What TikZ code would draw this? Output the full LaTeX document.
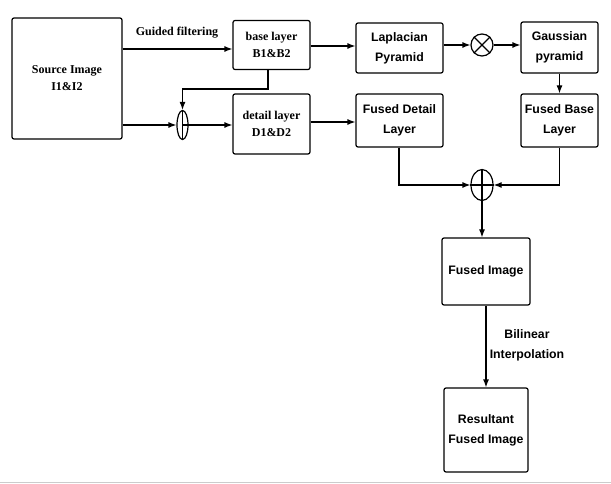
\documentclass[tikz,border=0pt]{standalone}
\usepackage{fontspec}
\setmainfont{Liberation Serif}
\setsansfont{Liberation Sans}
\usetikzlibrary{arrows.meta,shapes.geometric}
\begin{document}
\begin{tikzpicture}[x=1pt,y=-1pt,
  line width=1.2pt,
  box/.style={draw, rounded corners=2pt, align=center, inner sep=1pt},
  serifbox/.style={box, font=\fontsize{12}{17}\selectfont\bfseries},
  sansbox/.style={box, font=\sffamily\fontsize{12.3}{20}\selectfont\bfseries},
  arr/.style={-{Latex[length=8pt,width=6pt]}},
  lbl/.style={font=\sffamily\fontsize{12.3}{20}\selectfont\bfseries, align=center}]
\useasboundingbox (0,0) rectangle (611,484);
\draw[gray!40, line width=1pt] (0,482) -- (611,482);

\node[serifbox, minimum width=110pt, minimum height=121pt] (src) at (67,78.5) {Source Image\\I1\&I2};
\node[serifbox, minimum width=77pt, minimum height=49pt] (base) at (271.5,45) {base layer\\B1\&B2};
\node[serifbox, minimum width=77pt, minimum height=60pt] (det) at (271.5,124) {detail layer\\D1\&D2};
\node[sansbox, minimum width=87pt, minimum height=50pt] (lap) at (399.5,48) {Laplacian\\Pyramid};
\node[sansbox, minimum width=77pt, minimum height=51pt] (gau) at (559.5,47.5) {Gaussian\\pyramid};
\node[sansbox, minimum width=87pt, minimum height=53pt] (fdl) at (399.5,120.5) {Fused Detail\\Layer};
\node[sansbox, minimum width=77pt, minimum height=53pt] (fbl) at (559.5,120.5) {Fused Base\\Layer};
\node[sansbox, minimum width=88pt, minimum height=67pt] (fim) at (486,271.5) {Fused Image};
\node[sansbox, minimum width=84pt, minimum height=84pt] (res) at (486,430) {Resultant\\Fused Image};

% small ellipse (sum)
\node[draw, ellipse, minimum width=11pt, minimum height=29pt, inner sep=0pt] (e1) at (182.5,125) {};
\draw (e1.north) -- (e1.south);
% otimes
\node[draw, circle, minimum size=22pt, inner sep=0pt] (mul) at (482,45) {};
\draw (mul.north east) -- (mul.south west) (mul.north west) -- (mul.south east);
% oplus
\node[draw, ellipse, minimum width=22pt, minimum height=31pt, inner sep=0pt] (add) at (482,185) {};
\draw (add.north) -- (add.south) (add.west) -- (add.east);

\node[font=\fontsize{12}{14}\selectfont\bfseries] (gf) at (177,33) {Guided filtering};
\node[lbl] (bi) at (527,345) {Bilinear\\Interpolation};

\coordinate (s1) at (src.east |- 0,49);
\coordinate (s2) at (src.east |- 0,125);
\coordinate (b1) at (268,0);
\draw[arr] (s1) -- (base.west |- s1);
\draw[arr] (s2) -- (e1.west);
\draw[arr] (e1.center) -- (det.west |- e1);
\draw[arr] (b1 |- base.south) -- (b1 |- 0,89) -| (e1.north);
\draw[arr] (base.east |- 0,46) -- (lap.west |- 0,46);
\draw[arr] (lap.east |- mul) -- (mul.west);
\draw[arr] (mul.east) -- (gau.west |- mul);
\draw[arr] (gau.south) -- (fbl.north);
\draw[arr] (det.east |- 0,122) -- (fdl.west |- 0,122);
\draw[arr] (fdl.south -| 399,0) |- (add.west);
\draw[arr] (fbl.south) |- (add.east);
\draw[arr] (add.south) -- (add.south |- fim.north);
\draw[arr] (fim.south) -- (res.north);
\end{tikzpicture}
\end{document}
